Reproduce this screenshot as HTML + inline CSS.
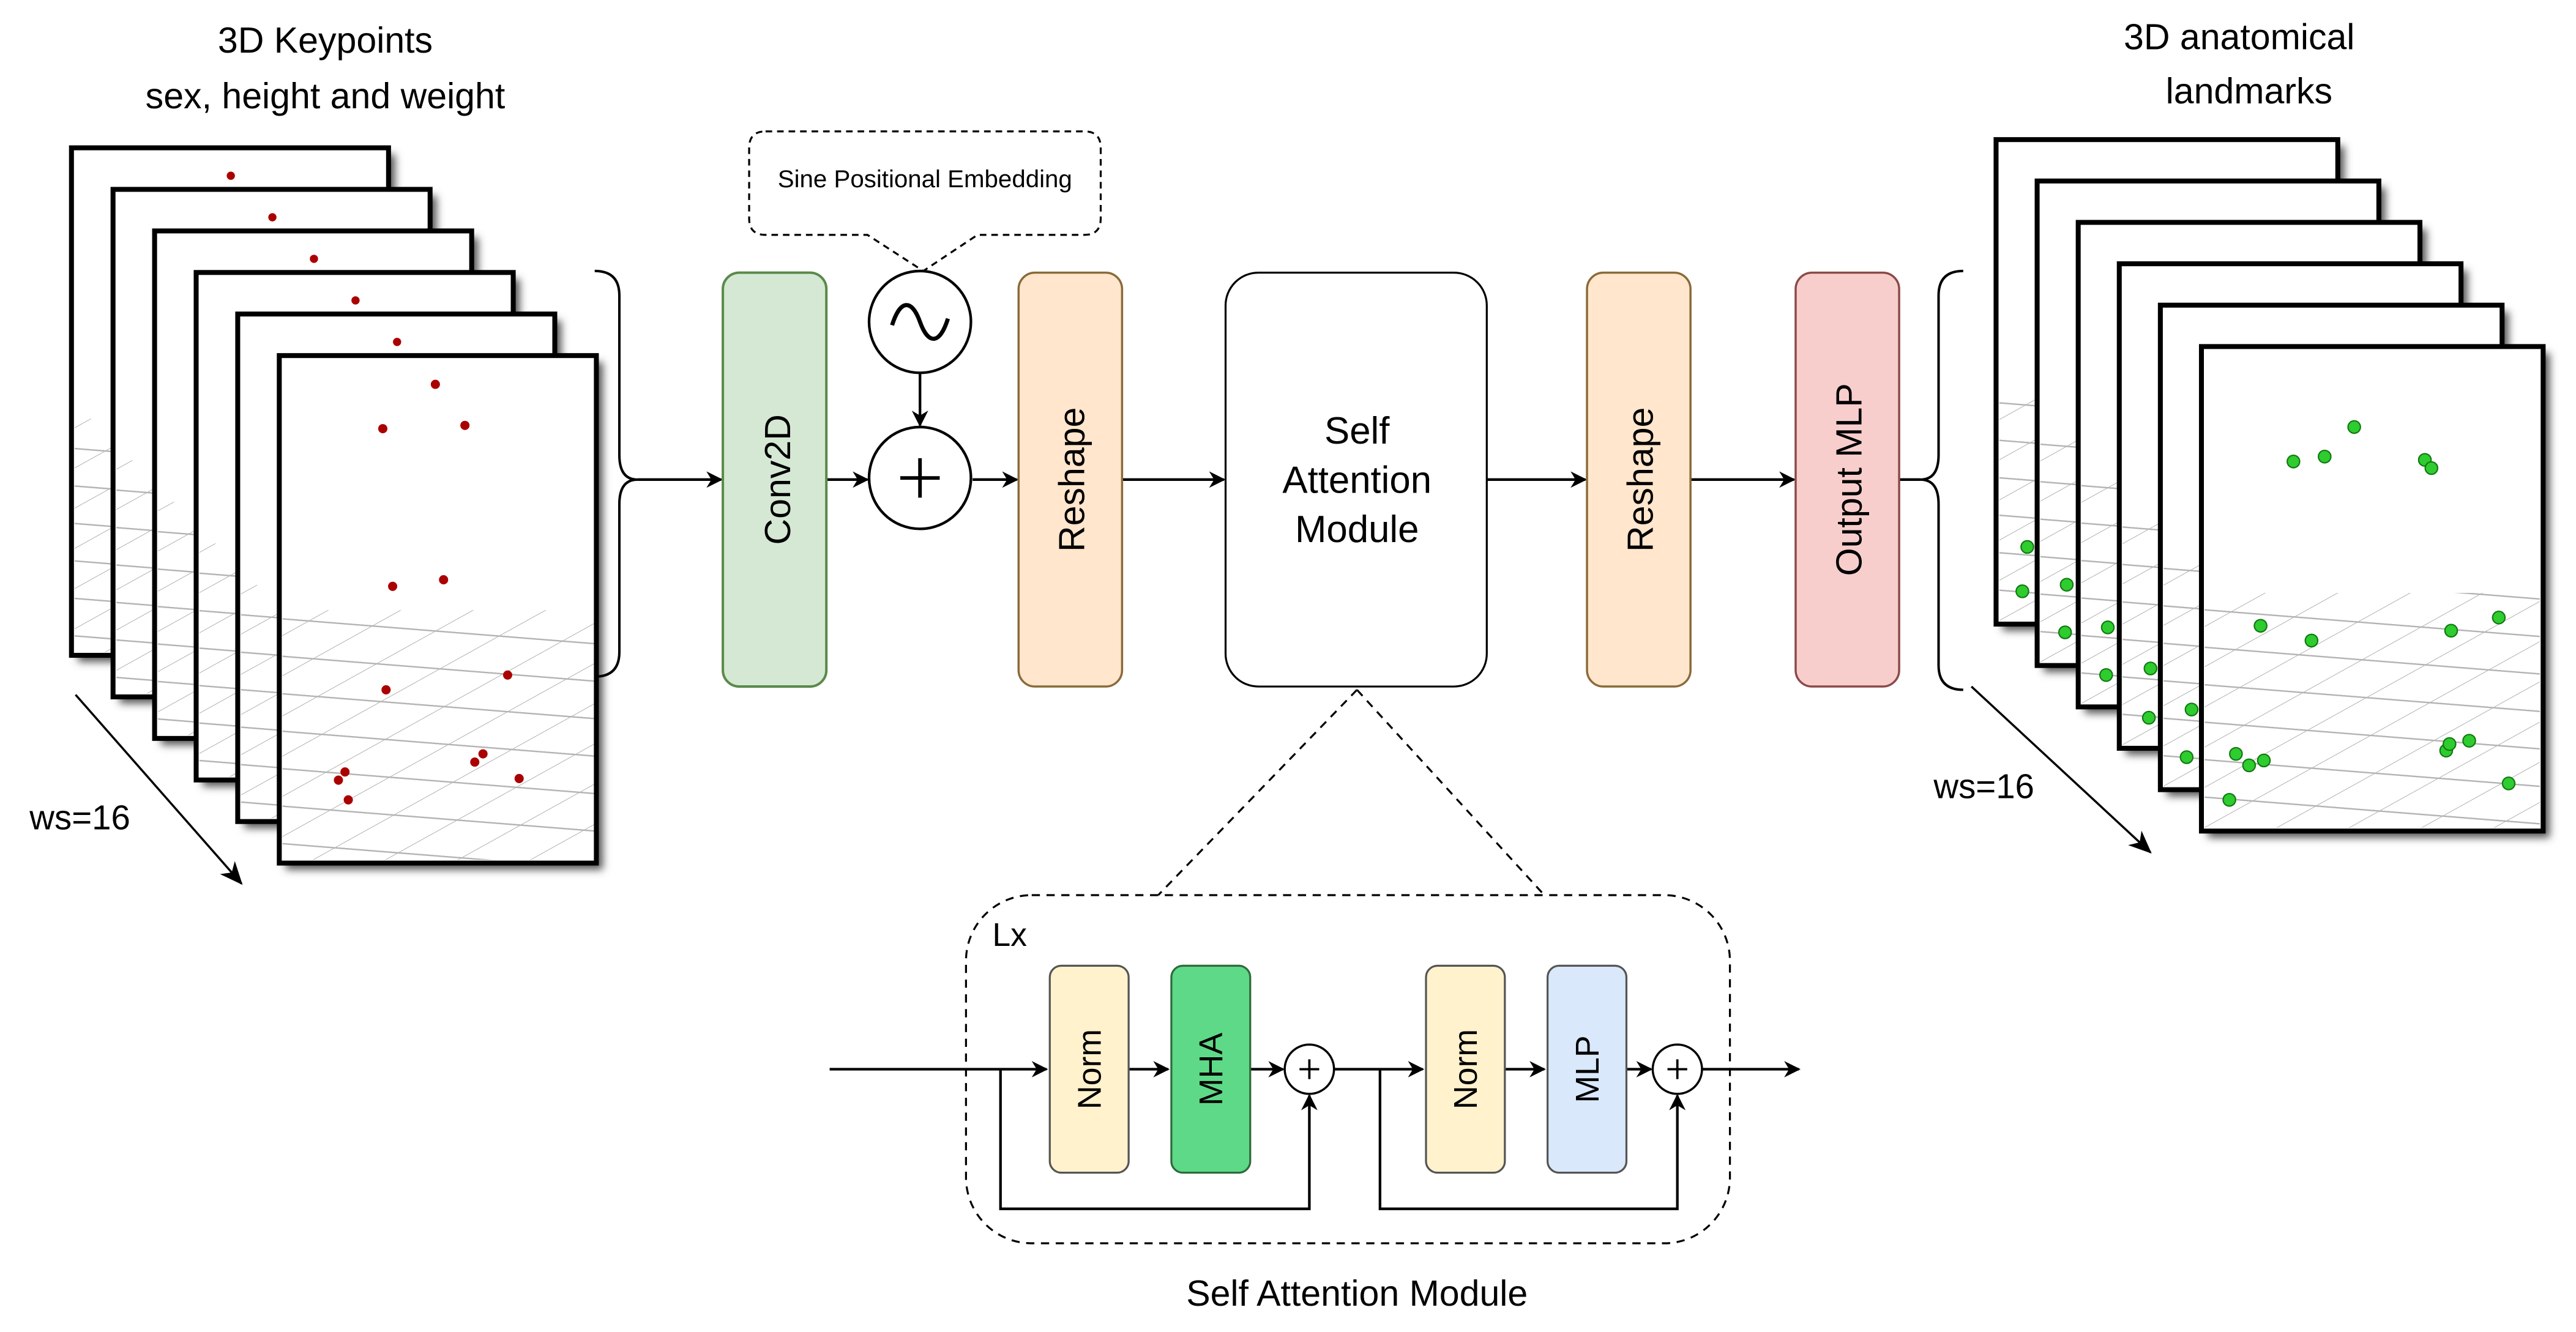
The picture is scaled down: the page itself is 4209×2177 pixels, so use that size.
<!DOCTYPE html>
<html><head><meta charset="utf-8"><style>
html,body{margin:0;padding:0;background:#fff}
svg{display:block}
text{font-family:"Liberation Sans",sans-serif}
</style></head><body>
<svg width="4209" height="2177" viewBox="0 0 1568 811" preserveAspectRatio="none" xmlns="http://www.w3.org/2000/svg">
<defs>
<marker id="ah" markerWidth="10" markerHeight="10" refX="9" refY="5" orient="auto" markerUnits="userSpaceOnUse"><path d="M0,0 L10,5 L0,10 L3,5 z" fill="#000"/></marker>
<marker id="ah2" markerWidth="14" markerHeight="12" refX="13" refY="6" orient="auto" markerUnits="userSpaceOnUse"><path d="M0,0 L14,6 L0,12 L4,6 z" fill="#000"/></marker>
<pattern id="grid" width="44" height="20" patternUnits="userSpaceOnUse" patternTransform="skewX(-60) rotate(4)">
<path d="M0,0 H44 M0,0 V20" stroke="#b4b4b4" stroke-width="1.6" fill="none"/></pattern>
<filter id="sh" x="-10%" y="-10%" width="130%" height="130%"><feGaussianBlur stdDeviation="2.5"/></filter>
</defs>

<text x="198" y="32" font-size="22" text-anchor="middle">3D Keypoints</text>
<text x="198" y="66" font-size="22" text-anchor="middle">sex, height and weight</text>
<text x="1363" y="30" font-size="22" text-anchor="middle">3D anatomical</text>
<text x="1369" y="63" font-size="22" text-anchor="middle">landmarks</text>

<g>
<g transform="translate(43.5,90)"><rect x="4" y="4" width="193" height="309" fill="#555" filter="url(#sh)"/><rect width="193" height="309" fill="#fff"/><rect x="2" y="165" width="190" height="142" fill="url(#grid)"/><rect width="193" height="309" fill="none" stroke="#000" stroke-width="3"/><circle cx="97" cy="17" r="2.5" fill="#a00"/></g>
<g transform="translate(68.8,115.3)"><rect x="4" y="4" width="193" height="309" fill="#555" filter="url(#sh)"/><rect width="193" height="309" fill="#fff"/><rect x="2" y="165" width="190" height="142" fill="url(#grid)"/><rect width="193" height="309" fill="none" stroke="#000" stroke-width="3"/><circle cx="97" cy="17" r="2.5" fill="#a00"/></g>
<g transform="translate(94.1,140.6)"><rect x="4" y="4" width="193" height="309" fill="#555" filter="url(#sh)"/><rect width="193" height="309" fill="#fff"/><rect x="2" y="165" width="190" height="142" fill="url(#grid)"/><rect width="193" height="309" fill="none" stroke="#000" stroke-width="3"/><circle cx="97" cy="17" r="2.5" fill="#a00"/></g>
<g transform="translate(119.4,165.9)"><rect x="4" y="4" width="193" height="309" fill="#555" filter="url(#sh)"/><rect width="193" height="309" fill="#fff"/><rect x="2" y="165" width="190" height="142" fill="url(#grid)"/><rect width="193" height="309" fill="none" stroke="#000" stroke-width="3"/><circle cx="97" cy="17" r="2.5" fill="#a00"/></g>
<g transform="translate(144.7,191.2)"><rect x="4" y="4" width="193" height="309" fill="#555" filter="url(#sh)"/><rect width="193" height="309" fill="#fff"/><rect x="2" y="165" width="190" height="142" fill="url(#grid)"/><rect width="193" height="309" fill="none" stroke="#000" stroke-width="3"/><circle cx="97" cy="17" r="2.5" fill="#a00"/></g>
<g transform="translate(170,216.5)"><rect x="4" y="4" width="193" height="309" fill="#555" filter="url(#sh)"/><rect width="193" height="309" fill="#fff"/><rect x="2" y="155" width="190" height="152" fill="url(#grid)"/><rect width="193" height="309" fill="none" stroke="#000" stroke-width="3"/></g>
<g fill="#a00">
<circle cx="265" cy="234" r="2.8"/><circle cx="233" cy="261" r="2.8"/><circle cx="283" cy="259" r="2.8"/><circle cx="239" cy="357" r="2.8"/><circle cx="270" cy="353" r="2.8"/><circle cx="235" cy="420" r="2.8"/><circle cx="309" cy="411" r="2.8"/><circle cx="294" cy="459" r="2.8"/><circle cx="289" cy="464" r="2.8"/><circle cx="316" cy="474" r="2.8"/><circle cx="210" cy="470" r="2.8"/><circle cx="206" cy="475" r="2.8"/><circle cx="212" cy="487" r="2.8"/>
</g>
</g>
<line x1="46" y1="423" x2="147" y2="538" stroke="#000" stroke-width="1.3" marker-end="url(#ah2)"/>
<text x="18" y="505" font-size="21">ws=16</text>

<g>
<g transform="translate(1215,85)"><rect x="4" y="4" width="208" height="295" fill="#555" filter="url(#sh)"/><rect width="208" height="295" fill="#fff"/><rect x="2" y="155" width="204" height="138" fill="url(#grid)"/><rect width="208" height="295" fill="none" stroke="#000" stroke-width="3"/></g>
<g transform="translate(1240,110.2)"><rect x="4" y="4" width="208" height="295" fill="#555" filter="url(#sh)"/><rect width="208" height="295" fill="#fff"/><rect x="2" y="155" width="204" height="138" fill="url(#grid)"/><rect width="208" height="295" fill="none" stroke="#000" stroke-width="3"/></g>
<g transform="translate(1265,135.4)"><rect x="4" y="4" width="208" height="295" fill="#555" filter="url(#sh)"/><rect width="208" height="295" fill="#fff"/><rect x="2" y="155" width="204" height="138" fill="url(#grid)"/><rect width="208" height="295" fill="none" stroke="#000" stroke-width="3"/></g>
<g transform="translate(1290,160.6)"><rect x="4" y="4" width="208" height="295" fill="#555" filter="url(#sh)"/><rect width="208" height="295" fill="#fff"/><rect x="2" y="155" width="204" height="138" fill="url(#grid)"/><rect width="208" height="295" fill="none" stroke="#000" stroke-width="3"/></g>
<g transform="translate(1315,185.8)"><rect x="4" y="4" width="208" height="295" fill="#555" filter="url(#sh)"/><rect width="208" height="295" fill="#fff"/><rect x="2" y="155" width="204" height="138" fill="url(#grid)"/><rect width="208" height="295" fill="none" stroke="#000" stroke-width="3"/></g>
<g transform="translate(1340,211)"><rect x="4" y="4" width="208" height="295" fill="#555" filter="url(#sh)"/><rect width="208" height="295" fill="#fff"/><rect x="2" y="150" width="204" height="143" fill="url(#grid)"/><rect width="208" height="295" fill="none" stroke="#000" stroke-width="3"/></g>
<g fill="#2ecc2e" stroke="#117711" stroke-width="0.8">
<circle cx="1433" cy="260" r="3.8"/><circle cx="1396" cy="281" r="3.8"/><circle cx="1415" cy="278" r="3.8"/><circle cx="1476" cy="280" r="3.8"/><circle cx="1480" cy="285" r="3.8"/><circle cx="1376" cy="381" r="3.8"/><circle cx="1407" cy="390" r="3.8"/><circle cx="1492" cy="384" r="3.8"/><circle cx="1521" cy="376" r="3.8"/><circle cx="1489" cy="457" r="3.8"/><circle cx="1503" cy="451" r="3.8"/><circle cx="1491" cy="453" r="3.8"/><circle cx="1361" cy="459" r="3.8"/><circle cx="1369" cy="466" r="3.8"/><circle cx="1378" cy="463" r="3.8"/><circle cx="1357" cy="487" r="3.8"/><circle cx="1527" cy="477" r="3.8"/>
<circle cx="1234" cy="333" r="3.8"/><circle cx="1231" cy="360" r="3.8"/><circle cx="1258" cy="356" r="3.8"/><circle cx="1257" cy="385" r="3.8"/><circle cx="1283" cy="382" r="3.8"/><circle cx="1282" cy="411" r="3.8"/><circle cx="1309" cy="407" r="3.8"/><circle cx="1308" cy="437" r="3.8"/><circle cx="1334" cy="432" r="3.8"/><circle cx="1331" cy="461" r="3.8"/>
</g>
</g>
<line x1="1200" y1="418" x2="1309" y2="519" stroke="#000" stroke-width="1.3" marker-end="url(#ah2)"/>
<text x="1177" y="486" font-size="21">ws=16</text>

<path d="M362,165 Q377,165 377,180 L377,277 Q377,292 388,292 Q377,292 377,307 L377,397 Q377,412 362,412" fill="none" stroke="#000" stroke-width="1.5"/>
<path d="M1195,165 Q1180,165 1180,180 L1180,277 Q1180,292 1169,292 Q1180,292 1180,307 L1180,405 Q1180,420 1195,420" fill="none" stroke="#000" stroke-width="1.5"/>

<g stroke="#000" stroke-width="1.6" fill="none">
<line x1="388" y1="292" x2="439" y2="292" marker-end="url(#ah)"/>
<line x1="503" y1="292" x2="528" y2="292" marker-end="url(#ah)"/>
<line x1="592" y1="292" x2="619" y2="292" marker-end="url(#ah)"/>
<line x1="683" y1="292" x2="745" y2="292" marker-end="url(#ah)"/>
<line x1="905" y1="292" x2="965" y2="292" marker-end="url(#ah)"/>
<line x1="1029" y1="292" x2="1092" y2="292" marker-end="url(#ah)"/>
<line x1="1156" y1="292" x2="1169" y2="292"/>
<line x1="560" y1="227" x2="560" y2="259" marker-end="url(#ah)"/>
</g>

<rect x="440" y="166" width="63" height="252" rx="10" fill="#d5e8d4" stroke="#5a8a4a" stroke-width="1.5"/>
<text transform="translate(481,292) rotate(-90)" font-size="22" text-anchor="middle">Conv2D</text>
<rect x="620" y="166" width="63" height="252" rx="10" fill="#ffe6cc" stroke="#8a6a3a" stroke-width="1.3"/>
<text transform="translate(660,292) rotate(-90)" font-size="22" text-anchor="middle">Reshape</text>
<rect x="746" y="166" width="159" height="252" rx="20" fill="#fff" stroke="#000" stroke-width="1.2"/>
<text x="826" y="270" font-size="23" text-anchor="middle">Self</text>
<text x="826" y="300" font-size="23" text-anchor="middle">Attention</text>
<text x="826" y="330" font-size="23" text-anchor="middle">Module</text>
<rect x="966" y="166" width="63" height="252" rx="10" fill="#ffe6cc" stroke="#8a6a3a" stroke-width="1.3"/>
<text transform="translate(1006,292) rotate(-90)" font-size="22" text-anchor="middle">Reshape</text>
<rect x="1093" y="166" width="63" height="252" rx="10" fill="#f8cecc" stroke="#8a4a48" stroke-width="1.3"/>
<text transform="translate(1133,292) rotate(-90)" font-size="22" text-anchor="middle">Output MLP</text>

<circle cx="560" cy="196" r="31" fill="#fff" stroke="#000" stroke-width="1.6"/>
<path d="M543,198 C548,182 555,182 560,196 C565,210 572,210 577,194" fill="none" stroke="#000" stroke-width="2.5"/>
<circle cx="560" cy="291" r="31" fill="#fff" stroke="#000" stroke-width="1.6"/>
<path d="M560,279 V303 M548,291 H572" stroke="#000" stroke-width="2.2"/>

<path d="M466,80 H660 Q670,80 670,90 V133 Q670,143 660,143 H595 L562,165 L528,143 H466 Q456,143 456,133 V90 Q456,80 466,80 Z" fill="none" stroke="#000" stroke-width="1.2" stroke-dasharray="4,3"/>
<text x="563" y="114" font-size="15" text-anchor="middle">Sine Positional Embedding</text>

<line x1="826" y1="420" x2="705" y2="545" stroke="#000" stroke-width="1.2" stroke-dasharray="5,4"/>
<line x1="826" y1="420" x2="940" y2="545" stroke="#000" stroke-width="1.2" stroke-dasharray="5,4"/>

<rect x="588" y="545" width="465" height="212" rx="40" fill="none" stroke="#000" stroke-width="1.2" stroke-dasharray="5,4"/>
<text x="604" y="576" font-size="20">Lx</text>
<g stroke="#000" stroke-width="1.6" fill="none">
<line x1="505" y1="651" x2="637" y2="651" marker-end="url(#ah)"/>
<line x1="687" y1="651" x2="711" y2="651" marker-end="url(#ah)"/>
<line x1="761" y1="651" x2="781" y2="651" marker-end="url(#ah)"/>
<line x1="812" y1="651" x2="866" y2="651" marker-end="url(#ah)"/>
<line x1="916" y1="651" x2="940" y2="651" marker-end="url(#ah)"/>
<line x1="990" y1="651" x2="1005" y2="651" marker-end="url(#ah)"/>
<line x1="1036" y1="651" x2="1095" y2="651" marker-end="url(#ah)"/>
<polyline points="609,651 609,736 797,736 797,667" marker-end="url(#ah)"/>
<polyline points="840,651 840,736 1021,736 1021,667" marker-end="url(#ah)"/>
</g>
<rect x="639" y="588" width="48" height="126" rx="7" fill="#fff2cc" stroke="#555" stroke-width="1.2"/>
<text transform="translate(670,651) rotate(-90)" font-size="20" text-anchor="middle">Norm</text>
<rect x="713" y="588" width="48" height="126" rx="7" fill="#5ed987" stroke="#2d6b3a" stroke-width="1.2"/>
<text transform="translate(744,651) rotate(-90)" font-size="20" text-anchor="middle">MHA</text>
<rect x="868" y="588" width="48" height="126" rx="7" fill="#fff2cc" stroke="#555" stroke-width="1.2"/>
<text transform="translate(899,651) rotate(-90)" font-size="20" text-anchor="middle">Norm</text>
<rect x="942" y="588" width="48" height="126" rx="7" fill="#dae8fc" stroke="#555" stroke-width="1.2"/>
<text transform="translate(973,651) rotate(-90)" font-size="20" text-anchor="middle">MLP</text>
<circle cx="797" cy="651" r="15" fill="#fff" stroke="#000" stroke-width="1.3"/>
<path d="M797,645 V657 M791,651 H803" stroke="#000" stroke-width="1.4"/>
<circle cx="1021" cy="651" r="15" fill="#fff" stroke="#000" stroke-width="1.3"/>
<path d="M1021,645 V657 M1015,651 H1027" stroke="#000" stroke-width="1.4"/>
<text x="826" y="795" font-size="22" text-anchor="middle">Self Attention Module</text>
</svg>
</body></html>
